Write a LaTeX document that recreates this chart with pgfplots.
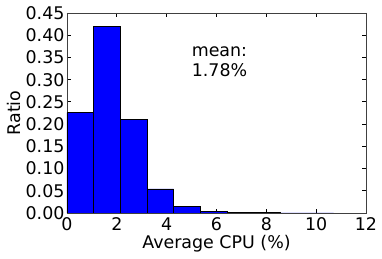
\documentclass[border=0pt]{standalone}
\usepackage{fontspec}
\setmainfont{DejaVu Sans}
\usepackage{pgfplots}
\pgfplotsset{compat=1.18}
\begin{document}
\begin{tikzpicture}
\begin{axis}[
  scale only axis,
  width=299bp, height=200bp,
  xmin=0, xmax=12, ymin=0, ymax=0.45,
  xtick={0,2,4,6,8,10,12},
  ytick={0,0.05,0.10,0.15,0.20,0.25,0.30,0.35,0.40,0.45},
  yticklabel style={/pgf/number format/fixed, /pgf/number format/fixed zerofill, /pgf/number format/precision=2, xshift=1bp},
  /pgf/number format/assume math mode=true,
  tick align=inside,
  major tick length=4bp,
  tick style={black, line width=0.8bp},
  axis line style={black!75, line width=0.9bp},
  ticklabel style={font=\fontsize{17.5}{21}\selectfont},
  label style={font=\fontsize{17.5}{21}\selectfont},
  xticklabel style={yshift=-1bp},
  xlabel={Average CPU (\%)},
  ylabel={Ratio},
  x label style={at={(axis description cs:0.5,0)}, anchor=base, yshift=-35bp, inner sep=0pt},
  y label style={at={(axis description cs:-0.1773,0.5)}, anchor=center, inner sep=0pt},
]
\addplot[ybar interval, fill=blue, draw=black, line width=0.6bp] coordinates {
  (0,0.226) (1.07,0.419) (2.14,0.210) (3.21,0.054) (4.28,0.0145)
  (5.35,0.004) (6.42,0.0015) (7.49,0.0008) (8.56,0.0003) (9.63,0.0002) (10.70,0)
};
\node[anchor=base west, inner sep=0pt, font=\fontsize{17.5}{21}\selectfont] at (axis cs:5.0,0.353) {mean:};
\node[anchor=base west, inner sep=0pt, font=\fontsize{17.5}{21}\selectfont] at (axis cs:5.0,0.308) {1.78\%};
\end{axis}
\pgfresetboundingbox
\path[use as bounding box] (-67bp,-46bp) rectangle (315bp,213bp);
\end{tikzpicture}
\end{document}
